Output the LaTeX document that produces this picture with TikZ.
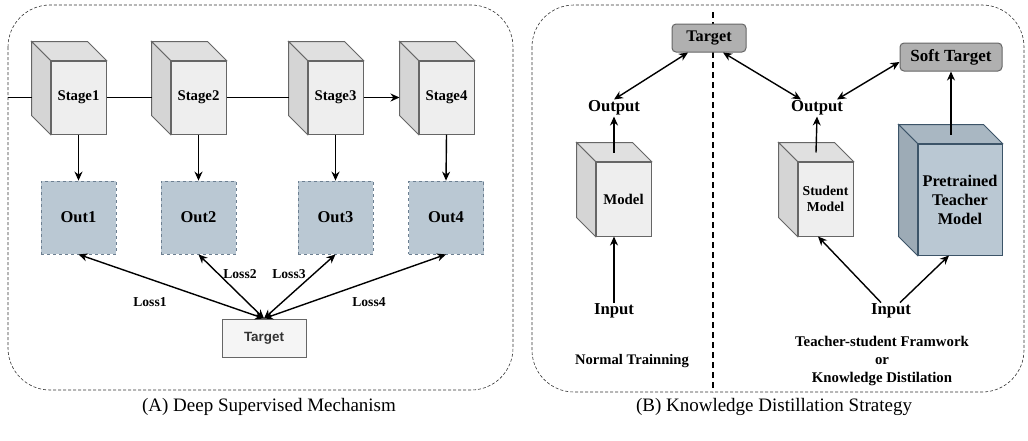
\documentclass[tikz,border=0pt]{standalone}
\usepackage{fontspec}
\setmainfont{Liberation Serif}
\newfontfamily\sansf{Liberation Sans}
\usetikzlibrary{arrows.meta}

\definecolor{cubefront}{HTML}{EEEEEE}
\definecolor{cubetop}{HTML}{E0E0E0}
\definecolor{cubeside}{HTML}{D5D5D5}
\definecolor{cubeline}{HTML}{666666}
\definecolor{outfill}{HTML}{BAC8D3}
\definecolor{outline}{HTML}{6C7F91}
\definecolor{teachtop}{HTML}{A9B7C2}
\definecolor{teachside}{HTML}{9DABB6}
\definecolor{teachline}{HTML}{3C5468}
\definecolor{tgfill}{HTML}{B0B0B0}

% top and left faces behind a front face node
\newcommand{\cubesides}[4]{%
\filldraw[draw=#4,line width=1pt,fill=#2] (#1.north west) -- ++(-19,-19) -- ([shift={(-19,-19)}]#1.north east) -- (#1.north east) -- cycle;
\filldraw[draw=#4,line width=1pt,fill=#3] (#1.north west) -- ++(-19,-19) -- ([shift={(-19,-19)}]#1.south west) -- (#1.south west) -- cycle;
}

\tikzset{
  arr/.style={-{Stealth[length=9pt,width=8pt]},line width=1.4pt},
  darr/.style={{Stealth[length=9pt,width=8pt]}-{Stealth[length=9pt,width=8pt]},line width=1.4pt},
  stagebox/.style={draw=cubeline,fill=cubefront,line width=1pt,minimum width=55pt,minimum height=73pt,inner sep=0pt,font=\fontsize{14.8}{16}\bfseries},
  outbox/.style={draw=outline,dashed,fill=outfill,line width=0.8pt,minimum width=75pt,minimum height=73pt,font=\fontsize{16.5}{18}\bfseries},
  lbl/.style={inner sep=1pt,font=\fontsize{16.7}{19}\bfseries},
  losslbl/.style={font=\fontsize{13.6}{15}\bfseries},
  gtarget/.style={draw=cubeline,fill=tgfill,rounded corners=4pt,line width=1pt,minimum height=28pt,inner sep=0pt,font=\fontsize{16.2}{18}\bfseries},
  panel/.style={draw=black!80,densely dashed,line width=0.6pt,rounded corners=42pt}
}

\begin{document}
\begin{tikzpicture}[x=1pt,y=-1pt]
\useasboundingbox (0,0) rectangle (1028,440);

\draw[panel] (8,5) rectangle (513,390);
\draw[panel] (532,5) rectangle (1024,392);

% (A)
\node[stagebox] (s1) at (78.5,97.5) {Stage1};
\node[stagebox] (s2) at (198.5,97.5) {Stage2};
\node[stagebox] (s3) at (335.5,97.5) {Stage3};
\node[stagebox] (s4) at (446.5,97.5) {Stage4};
\foreach \s in {s1,s2,s3,s4} {\cubesides{\s}{cubetop}{cubeside}{cubeline}}

\node[outbox] (o1) at (78.5,217.5) {Out1};
\node[outbox] (o2) at (198.5,217.5) {Out2};
\node[outbox] (o3) at (335.5,217.5) {Out3};
\node[outbox] (o4) at (446,217.5) {Out4};

\node[draw=cubeline,fill=black!4,line width=1pt,minimum width=84pt,minimum height=38pt,text=black!80,font=\sansf\fontsize{13.4}{15}\bfseries] (tgl) at (264,338) {Target};

\coordinate (entry) at (8,97.5);
\draw[line width=1.4pt] (entry) -- ([xshift=-19pt]s1.west);
\draw[line width=1.4pt] (s1.east) -- ([xshift=-19pt]s2.west);
\draw[line width=1.4pt] (s2.east) -- ([xshift=-19pt]s3.west);
\draw[arr] (s3.east) -- ([xshift=-19pt]s4.west);
\foreach \i in {1,...,4} {\draw[arr] (s\i.south) -- (o\i.north);}

\draw[darr] (tgl.north) -- (o1.south);
\draw[darr] (tgl.north) -- (o2.south);
\draw[darr] (tgl.north) -- (o3.south);
\draw[darr] (tgl.north) -- (o4.south);
\node[losslbl] (l1) at (150,302) {Loss1};
\node[losslbl] (l2) at (240,274) {Loss2};
\node[losslbl] (l3) at (289,274) {Loss3};
\node[losslbl] (l4) at (369,302) {Loss4};

% (B)
\coordinate (sepa) at (713,12);
\coordinate (sepb) at (713,392);
\draw[dashed,line width=1.4pt,dash pattern=on 6pt off 4pt] (sepa) -- (sepb);

\node[gtarget,minimum width=74pt] (tgr) at (709,38) {Target};
\node[gtarget,minimum width=102pt,font=\fontsize{17}{19}\bfseries] (soft) at (951,57) {Soft Target};

\node[stagebox,font=\fontsize{14.8}{16}\bfseries,minimum height=74pt] (m1) at (623.5,199) {Model};
\node[stagebox,font=\fontsize{13.7}{16}\bfseries,minimum height=74pt,align=center] (st) at (825.5,199) {Student\\Model};
\node[stagebox,fill=outfill,draw=teachline,minimum width=84pt,minimum height=111pt,align=center,font=\fontsize{16.3}{19}\bfseries] (tc) at (960,199.5) {Pretrained\\Teacher\\Model};
\cubesides{m1}{cubetop}{cubeside}{cubeline}
\cubesides{st}{cubetop}{cubeside}{cubeline}
\cubesides{tc}{teachtop}{teachside}{teachline}

\node[lbl] (outl) at (614,108) {Output};
\node[lbl] (outr) at (817,108) {Output};
\node[lbl] (inl) at (614,311) {Input};
\node[lbl] (inr) at (891,311) {Input};

\draw[darr] (outl.north) -- ([xshift=-21pt]tgr.south);
\draw[darr] ([xshift=14pt]tgr.south) -- ([xshift=-16pt]outr.north);
\draw[darr] ([xshift=20pt]outr.north) -- ([yshift=-5pt]soft.west);
\draw[arr] ([shift={(-9.5,-9)}]m1.north) -- (outl.south);
\draw[arr] ([shift={(-9.5,-9)}]st.north) -- (outr.south);
\draw[arr] ([shift={(-9,-9)}]tc.north) -- (soft.south);
\draw[arr] (inl.north) -- ([xshift=-9.5pt]m1.south);
\draw[arr] ([xshift=-10pt]inr.north) -- ([xshift=-7.5pt]st.south);
\draw[arr] ([xshift=9pt]inr.north) -- ([xshift=-11pt]tc.south);

\node[font=\fontsize{14.6}{17}\bfseries] (normal) at (632,361) {Normal Trainning};
\node[font=\fontsize{14.8}{18}\bfseries,align=center] (kd) at (882,361) {Teacher-student Framwork\\or\\Knowledge Distilation};

\node[font=\fontsize{19}{22}\selectfont] (capa) at (269,407) {(A) Deep Supervised Mechanism};
\node[font=\fontsize{19}{22}\selectfont] (capb) at (774,407) {(B) Knowledge Distillation Strategy};
\end{tikzpicture}
\end{document}
